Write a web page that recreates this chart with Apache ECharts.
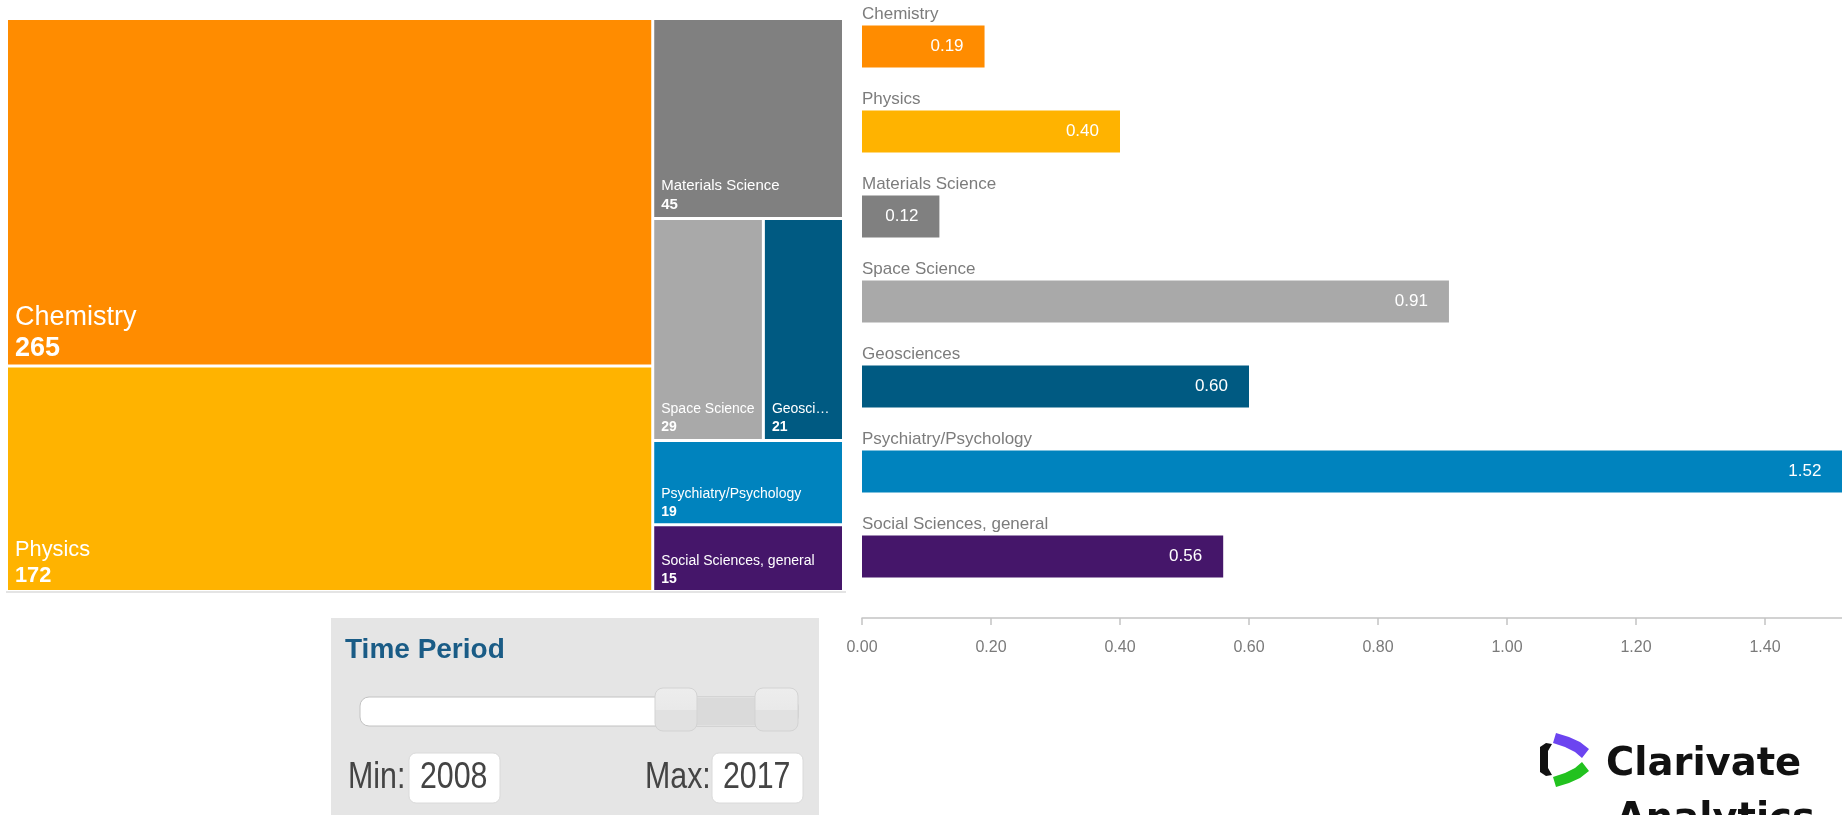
<!DOCTYPE html>
<html>
<head>
<meta charset="utf-8">
<title>Research output by subject area</title>
<script src="https://cdn.jsdelivr.net/npm/echarts@6/dist/echarts.min.js"></script>
<style>
  html, body { margin: 0; padding: 0; background: #ffffff; }
  #chart { width: 1842px; height: 815px; }
</style>
</head>
<body>
<div id="chart"></div>
<script>
// Subject areas, in the order they appear in both panels
const categories = [
  'Chemistry',
  'Physics',
  'Materials Science',
  'Space Science',
  'Geosciences',
  'Psychiatry/Psychology',
  'Social Sciences, general'
];
// Number of documents per subject (treemap tile sizes)
const documentCounts = [265, 172, 45, 29, 21, 19, 15];
// Normalised impact per subject (bar lengths)
const impactScores = [0.19, 0.40, 0.12, 0.91, 0.60, 1.52, 0.56];
// Colour per subject, shared by tile and bar
const categoryColors = ['#ff8c00', '#ffb300', '#808080', '#a9a9a9', '#005a82', '#0083be', '#45166a'];
// Value axis: 0.00, 0.20, ... 1.40
const axisMin = 0;
const axisStep = 0.2;
const axisMax = 1.6;
// Selected publication window
const yearRange = [2008, 2017];

const SANS = "'Liberation Sans', Arial, Helvetica, sans-serif";
const BRAND = "'DejaVu Sans', sans-serif";

// Bigger tiles carry bigger captions
function tileFontSize(v) {
  if (v >= 100) return Math.round(1.66 * Math.sqrt(v) * 10) / 10;
  return v >= 30 ? 15 : 14;
}
function tileLineHeight(fs) { return fs + 4; }
function tileBottomPad(fs) { return Math.max(0, 5 - 0.19 * fs); }
const TILE_PAD_LEFT = 7;
const TILE_PAD_RIGHT = 5.5;

const treemapData = categories.map((name, i) => {
  const v = documentCounts[i];
  const fs = tileFontSize(v);
  const lh = tileLineHeight(fs);
  return {
    name: name,
    value: v,
    itemStyle: { color: categoryColors[i] },
    label: {
      padding: [0, TILE_PAD_RIGHT, 0, TILE_PAD_LEFT],
      rich: {
        n: { fontSize: fs, lineHeight: lh, color: '#ffffff', fontFamily: SANS },
        v: { fontSize: fs, lineHeight: lh, color: '#ffffff', fontFamily: SANS, fontWeight: 'bold' }
      }
    }
  };
});

// Anchor each two-line tile caption to the bottom-left corner of its tile
function tileLabelLayout(params) {
  const m = /\{v\|(\d+)\}/.exec(params.text || '');
  if (!m) return {};
  const fs = tileFontSize(Number(m[1]));
  const lh = tileLineHeight(fs);
  const r = params.rect;
  return {
    x: r.x,
    y: r.y + r.height - tileBottomPad(fs) - 2 * lh,
    align: 'left',
    verticalAlign: 'top'
  };
}

const barData = impactScores.map((v, i) => ({
  value: v,
  itemStyle: { color: categoryColors[i] }
}));

const pxPerUnit = 645;
const gridLeft = 862;
const gridWidth = (axisMax - axisMin) * pxPerUnit;

const chart = echarts.init(document.getElementById('chart'), null, { renderer: 'canvas' });

const handleFill = () => new echarts.graphic.LinearGradient(0, 0, 0, 1, [
  { offset: 0, color: '#ededed' }, { offset: 0.5, color: '#e9e9e9' },
  { offset: 0.52, color: '#e1e1e1' }, { offset: 1, color: '#e1e1e1' }
]);

// Slider, year boxes and brand mark around the two charts
const panel = { x: 331, y: 618, w: 488, h: 197 };
const narrowText = (text, x, y) => ({
  type: 'text', silent: true, x: x, y: y, scaleX: 0.82,
  style: { text: text, fontFamily: SANS, fontSize: 37, fill: '#444444', verticalAlign: 'middle' }
});
const graphics = [
  // faint rule under the treemap
  { type: 'rect', silent: true, shape: { x: 6, y: 591, width: 840, height: 2 }, style: { fill: '#e4e4e4' } },
  // time-period panel
  { type: 'rect', silent: true, shape: { x: panel.x, y: panel.y, width: panel.w, height: panel.h }, style: { fill: '#e5e5e5' } },
  { type: 'text', silent: true, x: 345, y: 650,
    style: { text: 'Time Period', fontFamily: SANS, fontSize: 28, fontWeight: 'bold', fill: '#1a5c86', verticalAlign: 'middle' } },
  // slider track
  { type: 'rect', silent: true, shape: { x: 360, y: 697, width: 438, height: 29, r: 9 }, style: { fill: '#ffffff', stroke: '#c2c2c2', lineWidth: 1 } },
  { type: 'rect', silent: true, shape: { x: 690, y: 698, width: 72, height: 27 }, style: { fill: '#dadada' } },
  // slider handles
  { type: 'rect', silent: true, shape: { x: 655, y: 688, width: 42, height: 43, r: 8 },
    style: { fill: handleFill(), stroke: '#d3d3d3', lineWidth: 1 } },
  { type: 'rect', silent: true, shape: { x: 755, y: 688, width: 43, height: 43, r: 8 },
    style: { fill: handleFill(), stroke: '#d3d3d3', lineWidth: 1 } },
  // min / max boxes
  narrowText('Min:', 348, 778),
  { type: 'rect', silent: true, shape: { x: 409, y: 753, width: 91, height: 50, r: 7 }, style: { fill: '#ffffff', stroke: '#dadada', lineWidth: 1 } },
  narrowText(String(yearRange[0]), 420, 778),
  narrowText('Max:', 645, 778),
  { type: 'rect', silent: true, shape: { x: 712, y: 753, width: 91, height: 50, r: 7 }, style: { fill: '#ffffff', stroke: '#dadada', lineWidth: 1 } },
  narrowText(String(yearRange[1]), 723, 778),
  // brand mark
  { type: 'polygon', silent: true,
    shape: { points: [[1540, 747], [1546, 743], [1552, 744], [1548, 751], [1548, 768], [1552, 775], [1546, 776], [1540, 772]] },
    style: { fill: '#111111' } },
  { type: 'polygon', silent: true,
    shape: { points: [[1556, 733], [1569, 737], [1580, 742], [1589, 749], [1582, 758], [1575, 752], [1565, 747], [1553, 743]] },
    style: { fill: '#6c44f0' } },
  { type: 'polygon', silent: true,
    shape: { points: [[1556, 787], [1569, 783], [1580, 778], [1589, 771], [1582, 762], [1575, 768], [1565, 773], [1553, 777]] },
    style: { fill: '#22c21f' } },
  { type: 'text', silent: true, x: 1606, y: 765,
    style: { text: 'Clarivate', fontFamily: BRAND, fontSize: 38.5, fontWeight: 'bold', fill: '#111111', verticalAlign: 'middle' } },
  { type: 'text', silent: true, x: 1616, y: 820,
    style: { text: 'Analytics', fontFamily: BRAND, fontSize: 38.5, fontWeight: 'bold', fill: '#111111', verticalAlign: 'middle' } }
];

const option = {
  animation: false,
  backgroundColor: '#ffffff',
  textStyle: { fontFamily: SANS },
  grid: {
    left: gridLeft,
    top: 4,
    width: gridWidth,
    height: 595,
    containLabel: false,
    outerBoundsMode: 'none'
  },
  xAxis: {
    type: 'value',
    min: axisMin,
    max: axisMax,
    interval: axisStep,
    position: 'bottom',
    offset: 19,
    axisLine: { show: true, lineStyle: { color: '#c4c4c4', width: 1.5 } },
    axisTick: { show: true, length: 7, lineStyle: { color: '#c4c4c4', width: 1.5 } },
    splitLine: { show: false },
    axisLabel: {
      margin: 22,
      showMaxLabel: false,
      fontFamily: SANS,
      fontSize: 16,
      color: '#7a7a7a',
      formatter: v => v.toFixed(2)
    }
  },
  yAxis: {
    type: 'category',
    data: categories,
    inverse: true,
    axisLine: { show: false },
    axisTick: { show: false },
    splitLine: { show: false },
    axisLabel: {
      inside: true,
      margin: 0,
      align: 'left',
      verticalAlign: 'bottom',
      padding: [0, 0, 23, 0],
      fontFamily: SANS,
      fontSize: 17,
      lineHeight: 18,
      color: '#7c7c7c'
    }
  },
  series: [
    {
      type: 'treemap',
      left: 8,
      top: 20,
      width: 834,
      height: 570,
      roam: false,
      nodeClick: false,
      silent: true,
      breadcrumb: { show: false },
      squareRatio: 0.5 * (1 + Math.sqrt(5)),
      levels: [
        { itemStyle: { borderWidth: 0, gapWidth: 3, borderColor: '#ffffff' } }
      ],
      label: {
        show: true,
        position: 'insideTopLeft',
        distance: 0,
        overflow: 'truncate',
        ellipsis: '\u2026',
        formatter: '{n|{b}}\n{v|{c}}'
      },
      labelLayout: tileLabelLayout,
      upperLabel: { show: false },
      data: treemapData
    },
    {
      type: 'bar',
      silent: true,
      data: barData,
      barWidth: 42,
      label: {
        show: true,
        position: 'insideRight',
        distance: 21,
        color: '#ffffff',
        fontFamily: SANS,
        fontSize: 17,
        formatter: p => p.value.toFixed(2)
      }
    }
  ],
  graphic: graphics
};

chart.setOption(option);
</script>
</body>
</html>
